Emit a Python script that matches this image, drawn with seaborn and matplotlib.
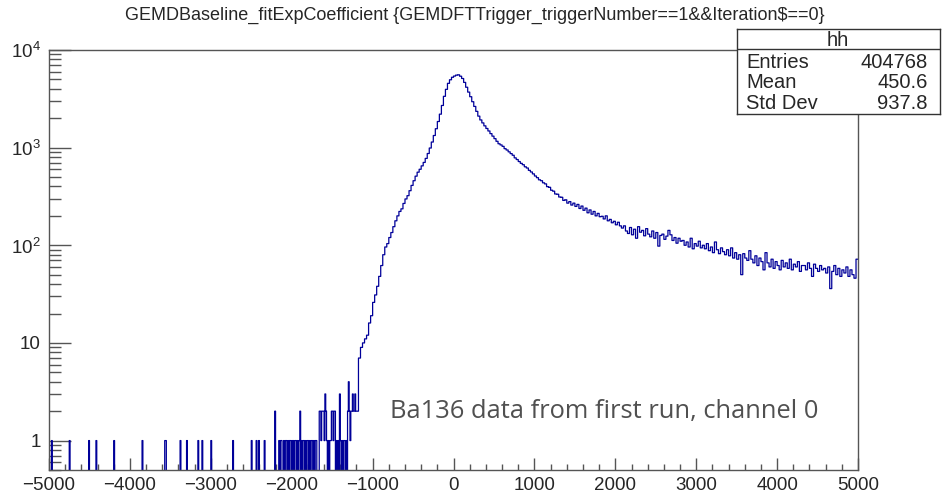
import numpy as np
import pandas as pd
import seaborn as sns
import matplotlib.pyplot as plt
from matplotlib.ticker import MultipleLocator, LogLocator, FixedLocator, NullFormatter

# Sparse low tail: left edges of 10-wide bins that have entries, and their counts
tail_x = [-4970, -4750, -4510, -4420, -4200, -3850, -3570, -3560, -3380, -3300,
          -3160, -3110, -3000, -2730, -2500, -2440, -2410, -2340,
          -2210, -2160, -2140, -2130, -2100, -2080, -2070, -2050, -2030, -2020,
          -2000, -1980, -1960, -1950, -1930, -1910, -1900, -1880, -1860, -1850,
          -1830, -1810, -1800, -1780, -1760, -1750, -1730, -1710, -1700,
          -1660, -1650, -1640, -1630, -1620, -1610, -1600, -1590, -1580,
          -1570, -1550, -1530, -1520,
          -1510, -1500, -1490, -1480, -1470,
          -1450, -1430, -1410, -1400, -1380, -1360, -1350, -1330,
          -1310, -1300, -1290, -1280, -1270, -1260, -1250, -1240, -1230, -1220, -1210]
tail_n = [1, 1, 1, 1, 1, 1, 1, 1, 1, 1,
          1, 1, 1, 1, 1, 1, 1, 1,
          2, 1, 1, 1, 1, 1, 1, 1, 1, 1,
          1, 1, 1, 1, 1, 1, 2, 1, 1, 1,
          1, 1, 1, 1, 1, 1, 1, 1, 1,
          2, 2, 1, 2, 2, 2, 1, 3, 2,
          1, 1, 1, 1,
          2, 2, 1, 2, 2,
          1, 1, 3, 1, 1, 1, 1, 1,
          2, 4, 2, 1, 2, 2, 3, 2, 2, 3, 2]

# Main part: 25-wide bins from -1200 to 5000
main_n = [2,
          7, 9, 10, 11, 12, 16, 19, 26, 31, 38,
          48, 62, 80, 96, 104, 120, 135, 155, 178, 200,
          222, 236, 268, 298, 322, 362, 410, 458, 510, 560,
          600, 650, 705, 775, 870, 990, 1140, 1330, 1560, 1850,
          2200, 2700, 3350, 3950, 4550, 4950, 5250, 5400, 5520, 5560,
          5380, 5100, 4650, 4150, 3700, 3320, 2950, 2640, 2350, 2100,
          1920, 1790, 1670, 1570, 1480, 1390, 1310, 1235, 1160, 1095,
          1065, 1030, 975, 945, 905, 868, 835, 785, 755, 720,
          690, 668, 636, 618, 585, 563, 538, 512, 492, 468,
          458, 436, 425, 398, 392, 366, 358, 335, 333, 312,
          310, 288, 292, 270, 280, 258, 270, 250, 262, 238,
          252, 228, 240, 215, 230, 208, 222, 200, 212, 196,
          198, 186, 200, 178, 184, 170, 176, 162, 172, 158,
          150, 158, 140, 132, 152, 128, 146, 118, 155, 136,
          142, 125, 148, 130, 122, 140, 118, 135, 98, 126,
          130, 115, 124, 142, 128, 112, 120, 105, 118, 110,
          112, 100, 108, 96, 118, 92, 104, 98, 110, 94,
          100, 92, 104, 88, 96, 84, 108, 90, 82, 94,
          86, 80, 90, 78, 94, 74, 84, 72, 80, 50,
          82, 74, 70, 88, 72, 66, 78, 62, 74, 68,
          56, 84, 66, 60, 72, 58, 68, 62, 56, 70,
          60, 66, 58, 72, 56, 64, 60, 68, 54, 62,
          62, 56, 66, 58, 48, 64, 58, 54, 62, 56,
          58, 52, 60, 36, 54, 62, 50, 58, 48, 56,
          52, 60, 48, 56, 50, 46, 72]

title = "GEMDBaseline_fitExpCoefficient {GEMDFTTrigger_triggerNumber==1&&Iteration\\$==0}"
stats = [("Entries", "404768"), ("Mean", "450.6"), ("Std Dev", "937.8")]

# Build bin edges / weights
low_edges = np.arange(-5000, -1200, 10)
low_n = np.zeros(len(low_edges))
for x, n in zip(tail_x, tail_n):
    low_n[np.searchsorted(low_edges, x)] = n
main_edges = np.arange(-1200, 5001, 25)
edges = np.concatenate([low_edges, main_edges])
df = pd.DataFrame({'center': (edges[:-1] + edges[1:]) / 2,
                   'count': np.concatenate([low_n, main_n])})

sns.set_style("ticks")
plt.rcParams['font.family'] = ['Liberation Sans', 'DejaVu Sans']
plt.rcParams['mathtext.fontset'] = 'custom'
plt.rcParams['mathtext.rm'] = 'Liberation Sans'

fig = plt.figure(figsize=(9.5, 4.93), dpi=100)
ax = fig.add_axes([0.0516, 0.0467, 0.8516, 0.852])
sns.histplot(data=df, x='center', weights='count', bins=list(edges), element='step',
             fill=False, color='#000099', linewidth=0.9, ax=ax)
ax.set_yscale('log')
ax.set_xlim(-5000, 5000)
ax.set_ylim(0.5, 1e4)
ax.set_xlabel('')
ax.set_ylabel('')

ax.xaxis.set_major_locator(MultipleLocator(1000))
ax.xaxis.set_minor_locator(MultipleLocator(200))
ax.yaxis.set_major_locator(FixedLocator([1, 10, 100, 1000, 10000]))
ax.set_yticklabels(['1', '10', '$10^{2}$', '$10^{3}$', '$10^{4}$'])
ax.yaxis.set_minor_locator(LogLocator(base=10, subs=np.arange(2, 10)))
ax.yaxis.set_minor_formatter(NullFormatter())

ax.tick_params(axis='both', which='both', direction='in', color='#555555', labelsize=13.5)
ax.tick_params(axis='x', which='major', length=9, width=1, pad=5)
ax.tick_params(axis='x', which='minor', length=4.5, width=1)
ax.tick_params(axis='y', which='major', length=16, width=1, pad=6)
ax.tick_params(axis='y', which='minor', length=8.5, width=1)
for s in ax.spines.values():
    s.set_color('#555555')
    s.set_linewidth(1)

fig.text(0.5, 0.968, title, ha='center', va='center', fontsize=13)

ax.text(0.422, 0.14, "Ba136 data from first run, channel 0", transform=ax.transAxes,
        fontsize=18.4, color='#505050', family=['Open Sans', 'DejaVu Sans'],
        ha='left', va='center')

# stats box (coordinates in pixels of the figure)
bx = fig.add_axes([737 / 950, 1 - 114 / 493, 203 / 950, 85 / 493])
bx.set_xlim(737, 940)
bx.set_ylim(114, 29)
bx.set_xticks([])
bx.set_yticks([])
for s in bx.spines.values():
    s.set_color('#333333')
    s.set_linewidth(1)
bx.axhline(49, color='#333333', lw=1)
bx.text(838, 40, "hh", ha='center', va='center', fontsize=14.5)
for i, (k, v) in enumerate(stats):
    y = 62.5 + i * 20.3
    bx.text(746, y, k, ha='left', va='center', fontsize=14.5)
    bx.text(928, y, v, ha='right', va='center', fontsize=14.5)

fig.savefig('out.png', dpi=100)
